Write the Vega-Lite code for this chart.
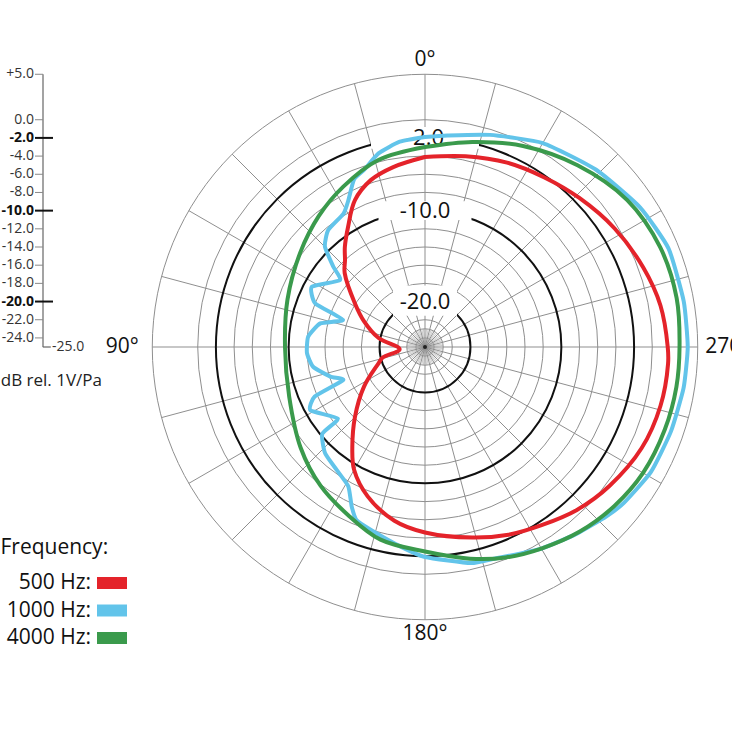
{
  "$schema": "https://vega.github.io/schema/vega-lite/v6.json",
  "width": 600,
  "height": 600,
  "autosize": {"type": "none"},
  "padding": {"left": 125, "top": 47, "right": 7, "bottom": 85},
  "background": "white",
  "config": {"view": {"stroke": null}, "text": {"font": "Open Sans"}, "legend": {"disable": true}},
  "datasets": {
    "curves": [
      {"freq": "1000 Hz", "a": 0, "dB": -1.9}, {"freq": "1000 Hz", "a": 7, "dB": -2.25}, {"freq": "1000 Hz", "a": 13.5, "dB": -3.1}, {"freq": "1000 Hz", "a": 19, "dB": -4.4}, {"freq": "1000 Hz", "a": 23, "dB": -5.0}, {"freq": "1000 Hz", "a": 27.6, "dB": -6.8}, {"freq": "1000 Hz", "a": 31.4, "dB": -7.8}, {"freq": "1000 Hz", "a": 39.6, "dB": -8.3}, {"freq": "1000 Hz", "a": 44.9, "dB": -9.4}, {"freq": "1000 Hz", "a": 48.8, "dB": -11.6}, {"freq": "1000 Hz", "a": 51.8, "dB": -13.1}, {"freq": "1000 Hz", "a": 62, "dB": -10.9}, {"freq": "1000 Hz", "a": 68.3, "dB": -12.0}, {"freq": "1000 Hz", "a": 71.7, "dB": -15.5}, {"freq": "1000 Hz", "a": 77.3, "dB": -13.2}, {"freq": "1000 Hz", "a": 85, "dB": -12.1}, {"freq": "1000 Hz", "a": 93, "dB": -12.0}, {"freq": "1000 Hz", "a": 100, "dB": -12.5}, {"freq": "1000 Hz", "a": 107.4, "dB": -14.1}, {"freq": "1000 Hz", "a": 112, "dB": -15.3}, {"freq": "1000 Hz", "a": 114.2, "dB": -11.7}, {"freq": "1000 Hz", "a": 118.9, "dB": -10.6}, {"freq": "1000 Hz", "a": 129.4, "dB": -12.6}, {"freq": "1000 Hz", "a": 130.2, "dB": -10.2}, {"freq": "1000 Hz", "a": 136.8, "dB": -8.95}, {"freq": "1000 Hz", "a": 144.3, "dB": -8.35}, {"freq": "1000 Hz", "a": 151.2, "dB": -7.5}, {"freq": "1000 Hz", "a": 155.3, "dB": -5.7}, {"freq": "1000 Hz", "a": 158.5, "dB": -4.5}, {"freq": "1000 Hz", "a": 163.7, "dB": -4.0}, {"freq": "1000 Hz", "a": 172.9, "dB": -2.9}, {"freq": "1000 Hz", "a": 180, "dB": -1.9}, {"freq": "1000 Hz", "a": 192, "dB": -0.7}, {"freq": "1000 Hz", "a": 198, "dB": -0.5}, {"freq": "1000 Hz", "a": 210, "dB": 0.6}, {"freq": "1000 Hz", "a": 219, "dB": 1.45}, {"freq": "1000 Hz", "a": 227, "dB": 2.3}, {"freq": "1000 Hz", "a": 232, "dB": 2.8}, {"freq": "1000 Hz", "a": 241, "dB": 3.4}, {"freq": "1000 Hz", "a": 251, "dB": 3.6}, {"freq": "1000 Hz", "a": 261, "dB": 3.8}, {"freq": "1000 Hz", "a": 270, "dB": 3.9}, {"freq": "1000 Hz", "a": 280, "dB": 3.9}, {"freq": "1000 Hz", "a": 292, "dB": 3.9}, {"freq": "1000 Hz", "a": 303, "dB": 3.2}, {"freq": "1000 Hz", "a": 316, "dB": 2.1}, {"freq": "1000 Hz", "a": 330, "dB": 0.9}, {"freq": "1000 Hz", "a": 343, "dB": -0.6}, {"freq": "1000 Hz", "a": 354, "dB": -1.6}, {"freq": "1000 Hz", "a": 360, "dB": -1.9},
      {"freq": "4000 Hz", "a": 0, "dB": -3.0}, {"freq": "4000 Hz", "a": 14, "dB": -3.8}, {"freq": "4000 Hz", "a": 27, "dB": -5.2}, {"freq": "4000 Hz", "a": 39, "dB": -6.45}, {"freq": "4000 Hz", "a": 53, "dB": -7.8}, {"freq": "4000 Hz", "a": 71, "dB": -9.0}, {"freq": "4000 Hz", "a": 90, "dB": -9.6}, {"freq": "4000 Hz", "a": 110, "dB": -9.1}, {"freq": "4000 Hz", "a": 129, "dB": -7.4}, {"freq": "4000 Hz", "a": 143, "dB": -5.9}, {"freq": "4000 Hz", "a": 156, "dB": -4.6}, {"freq": "4000 Hz", "a": 167, "dB": -3.25}, {"freq": "4000 Hz", "a": 180, "dB": -2.5}, {"freq": "4000 Hz", "a": 192, "dB": -1.2}, {"freq": "4000 Hz", "a": 201, "dB": -0.2}, {"freq": "4000 Hz", "a": 210, "dB": 0.6}, {"freq": "4000 Hz", "a": 220, "dB": 1.5}, {"freq": "4000 Hz", "a": 230, "dB": 2.2}, {"freq": "4000 Hz", "a": 240, "dB": 2.7}, {"freq": "4000 Hz", "a": 251, "dB": 2.9}, {"freq": "4000 Hz", "a": 261, "dB": 3.0}, {"freq": "4000 Hz", "a": 270, "dB": 3.0}, {"freq": "4000 Hz", "a": 281, "dB": 3.2}, {"freq": "4000 Hz", "a": 293, "dB": 3.1}, {"freq": "4000 Hz", "a": 306, "dB": 2.5}, {"freq": "4000 Hz", "a": 320, "dB": 1.1}, {"freq": "4000 Hz", "a": 334, "dB": -0.4}, {"freq": "4000 Hz", "a": 347, "dB": -1.85}, {"freq": "4000 Hz", "a": 360, "dB": -3.0},
      {"freq": "500 Hz", "a": 0, "dB": -4.1}, {"freq": "500 Hz", "a": 10, "dB": -4.9}, {"freq": "500 Hz", "a": 18, "dB": -5.7}, {"freq": "500 Hz", "a": 25.5, "dB": -7.1}, {"freq": "500 Hz", "a": 32.6, "dB": -9.3}, {"freq": "500 Hz", "a": 38.7, "dB": -10.9}, {"freq": "500 Hz", "a": 42.6, "dB": -12.0}, {"freq": "500 Hz", "a": 47.4, "dB": -13.0}, {"freq": "500 Hz", "a": 58, "dB": -15.9}, {"freq": "500 Hz", "a": 67, "dB": -17.7}, {"freq": "500 Hz", "a": 79, "dB": -19.8}, {"freq": "500 Hz", "a": 95, "dB": -22.2}, {"freq": "500 Hz", "a": 104, "dB": -20.2}, {"freq": "500 Hz", "a": 110, "dB": -19.5}, {"freq": "500 Hz", "a": 123, "dB": -17.0}, {"freq": "500 Hz", "a": 135, "dB": -14.1}, {"freq": "500 Hz", "a": 144, "dB": -11.4}, {"freq": "500 Hz", "a": 150, "dB": -9.4}, {"freq": "500 Hz", "a": 159, "dB": -7.4}, {"freq": "500 Hz", "a": 170, "dB": -5.6}, {"freq": "500 Hz", "a": 180, "dB": -4.6}, {"freq": "500 Hz", "a": 194, "dB": -3.4}, {"freq": "500 Hz", "a": 204, "dB": -2.4}, {"freq": "500 Hz", "a": 213, "dB": -1.6}, {"freq": "500 Hz", "a": 223, "dB": -0.5}, {"freq": "500 Hz", "a": 233, "dB": 0.4}, {"freq": "500 Hz", "a": 245, "dB": 1.3}, {"freq": "500 Hz", "a": 256, "dB": 1.7}, {"freq": "500 Hz", "a": 266, "dB": 1.8}, {"freq": "500 Hz", "a": 270, "dB": 1.7}, {"freq": "500 Hz", "a": 280, "dB": 1.3}, {"freq": "500 Hz", "a": 290, "dB": 0.55}, {"freq": "500 Hz", "a": 302, "dB": -0.4}, {"freq": "500 Hz", "a": 314, "dB": -1.4}, {"freq": "500 Hz", "a": 325, "dB": -2.2}, {"freq": "500 Hz", "a": 336, "dB": -2.8}, {"freq": "500 Hz", "a": 348, "dB": -3.55}, {"freq": "500 Hz", "a": 360, "dB": -4.1}
    ],
    "levels": [{"dB": 5}, {"dB": 0}, {"dB": -4}, {"dB": -6}, {"dB": -8}, {"dB": -12}, {"dB": -14}, {"dB": -16}, {"dB": -18}, {"dB": -22}, {"dB": -23}, {"dB": -24}],
    "major": [{"dB": -2}, {"dB": -10}, {"dB": -20}],
    "ticks": [{"dB": 5}, {"dB": 0}, {"dB": -2}, {"dB": -4}, {"dB": -6}, {"dB": -8}, {"dB": -10}, {"dB": -12}, {"dB": -14}, {"dB": -16}, {"dB": -18}, {"dB": -20}, {"dB": -22}, {"dB": -24}],
    "ends": [{"dB": 5}, {"dB": -25}],
    "spokes": [{"a": 0}, {"a": 15}, {"a": 30}, {"a": 45}, {"a": 60}, {"a": 75}, {"a": 90}, {"a": 105}, {"a": 120}, {"a": 135}, {"a": 150}, {"a": 165}, {"a": 180}, {"a": 195}, {"a": 210}, {"a": 225}, {"a": 240}, {"a": 255}, {"a": 270}, {"a": 285}, {"a": 300}, {"a": 315}, {"a": 330}, {"a": 345}],
    "fine": [{"a": 5}, {"a": 10}, {"a": 20}, {"a": 25}, {"a": 35}, {"a": 40}, {"a": 50}, {"a": 55}, {"a": 65}, {"a": 70}, {"a": 80}, {"a": 85}, {"a": 95}, {"a": 100}, {"a": 110}, {"a": 115}, {"a": 125}, {"a": 130}, {"a": 140}, {"a": 145}, {"a": 155}, {"a": 160}, {"a": 170}, {"a": 175}, {"a": 185}, {"a": 190}, {"a": 200}, {"a": 205}, {"a": 215}, {"a": 220}, {"a": 230}, {"a": 235}, {"a": 245}, {"a": 250}, {"a": 260}, {"a": 265}, {"a": 275}, {"a": 280}, {"a": 290}, {"a": 295}, {"a": 305}, {"a": 310}, {"a": 320}, {"a": 325}, {"a": 335}, {"a": 340}, {"a": 350}, {"a": 355}],
    "angles": [{"a": 0, "label": "0°"}, {"a": 90, "label": "90°"}, {"a": 180, "label": "180°"}, {"a": 270, "label": "270°"}],
    "freqs": [{"freq": "500 Hz"}, {"freq": "1000 Hz"}, {"freq": "4000 Hz"}]
  },
  "layer": [
    {
      "data": {"name": "levels"},
      "transform": [{"calculate": "datum.dB + 25", "as": "rho"}],
      "mark": {"type": "point", "shape": "circle", "filled": false, "color": "#8f8f8f", "opacity": 1, "strokeWidth": 1},
      "encoding": {
        "x": {"datum": 0, "type": "quantitative", "scale": {"domain": [-33, 33], "nice": false, "zero": false}, "axis": null},
        "y": {"datum": 0, "type": "quantitative", "scale": {"domain": [-33, 33], "nice": false, "zero": false}, "axis": null},
        "size": {"field": "rho", "type": "quantitative", "scale": {"type": "pow", "exponent": 2, "domain": [0, 30], "range": [0, 297520], "zero": false, "nice": false}}
      }
    },
    {
      "data": {"name": "fine"},
      "transform": [
        {"calculate": "0", "as": "cx"},
        {"calculate": "-2*sin(datum.a*PI/180)", "as": "ex"},
        {"calculate": "2*cos(datum.a*PI/180)", "as": "ey"}
      ],
      "mark": {"type": "rule", "stroke": "#a8a8a8", "strokeWidth": 0.6},
      "encoding": {
        "x": {"field": "cx", "type": "quantitative", "scale": {"domain": [-33, 33], "nice": false, "zero": false}, "axis": null},
        "y": {"field": "cx", "type": "quantitative", "scale": {"domain": [-33, 33], "nice": false, "zero": false}, "axis": null},
        "x2": {"field": "ex"},
        "y2": {"field": "ey"}
      }
    },
    {
      "data": {"name": "spokes"},
      "transform": [
        {"calculate": "0", "as": "cx"},
        {"calculate": "-30*sin(datum.a*PI/180)", "as": "ex"},
        {"calculate": "30*cos(datum.a*PI/180)", "as": "ey"}
      ],
      "mark": {"type": "rule", "stroke": "#8f8f8f", "strokeWidth": 1},
      "encoding": {
        "x": {"field": "cx", "type": "quantitative", "scale": {"domain": [-33, 33], "nice": false, "zero": false}, "axis": null},
        "y": {"field": "cx", "type": "quantitative", "scale": {"domain": [-33, 33], "nice": false, "zero": false}, "axis": null},
        "x2": {"field": "ex"},
        "y2": {"field": "ey"}
      }
    },
    {
      "data": {"name": "major"},
      "transform": [{"calculate": "datum.dB + 25", "as": "rho"}],
      "mark": {"type": "point", "shape": "circle", "filled": false, "color": "#111111", "opacity": 1, "strokeWidth": 2},
      "encoding": {
        "x": {"datum": 0, "type": "quantitative", "scale": {"domain": [-33, 33], "nice": false, "zero": false}, "axis": null},
        "y": {"datum": 0, "type": "quantitative", "scale": {"domain": [-33, 33], "nice": false, "zero": false}, "axis": null},
        "size": {"field": "rho", "type": "quantitative", "scale": {"type": "pow", "exponent": 2, "domain": [0, 30], "range": [0, 297520], "zero": false, "nice": false}}
      }
    },
    {
      "data": {"name": "major"},
      "transform": [{"filter": "datum.dB == -2"}, {"calculate": "datum.dB + 25", "as": "rho"}],
      "mark": {"type": "point", "shape": "M-1,-0.2H1V0.2H-1Z", "size": 11664, "filled": true, "color": "white", "opacity": 1, "strokeWidth": 0},
      "encoding": {
        "x": {"datum": 0, "type": "quantitative", "scale": {"domain": [-33, 33], "nice": false, "zero": false}, "axis": null},
        "y": {"field": "rho", "type": "quantitative", "scale": {"domain": [-33, 33], "nice": false, "zero": false}, "axis": null}
      }
    },
    {
      "data": {"name": "major"},
      "transform": [{"filter": "datum.dB == -10"}, {"calculate": "datum.dB + 25", "as": "rho"}],
      "mark": {"type": "point", "shape": "M-1,-0.2H1V0.2H-1Z", "size": 8649, "filled": true, "color": "white", "opacity": 1, "strokeWidth": 0},
      "encoding": {
        "x": {"datum": 0, "type": "quantitative", "scale": {"domain": [-33, 33], "nice": false, "zero": false}, "axis": null},
        "y": {"field": "rho", "type": "quantitative", "scale": {"domain": [-33, 33], "nice": false, "zero": false}, "axis": null}
      }
    },
    {
      "data": {"name": "major"},
      "transform": [{"filter": "datum.dB == -20"}, {"calculate": "datum.dB + 25", "as": "rho"}],
      "mark": {"type": "point", "shape": "M-1,-0.5H1V0.44H-1Z", "size": 4096, "filled": true, "color": "white", "opacity": 1, "strokeWidth": 0},
      "encoding": {
        "x": {"datum": 0, "type": "quantitative", "scale": {"domain": [-33, 33], "nice": false, "zero": false}, "axis": null},
        "y": {"field": "rho", "type": "quantitative", "scale": {"domain": [-33, 33], "nice": false, "zero": false}, "axis": null}
      }
    },
    {
      "data": {"values": [{}]},
      "mark": {"type": "point", "filled": true, "color": "#222222", "size": 16, "opacity": 1},
      "encoding": {
        "x": {"datum": 0, "type": "quantitative", "scale": {"domain": [-33, 33], "nice": false, "zero": false}, "axis": null},
        "y": {"datum": 0, "type": "quantitative", "scale": {"domain": [-33, 33], "nice": false, "zero": false}, "axis": null}
      }
    },
    {
      "data": {"name": "major"},
      "transform": [
        {"calculate": "datum.dB + 25", "as": "rho"},
        {"calculate": "replace(format(datum.dB, '.1f'), '\u2212', '-')", "as": "label"}
      ],
      "mark": {"type": "text", "fontSize": 22, "color": "#111111", "align": "center", "baseline": "middle"},
      "encoding": {
        "x": {"datum": 0, "type": "quantitative", "scale": {"domain": [-33, 33], "nice": false, "zero": false}, "axis": null},
        "y": {"field": "rho", "type": "quantitative", "scale": {"domain": [-33, 33], "nice": false, "zero": false}, "axis": null},
        "text": {"field": "label"}
      }
    },
    {
      "data": {"name": "curves"},
      "transform": [
        {"filter": "datum.freq == '1000 Hz'"},
        {"calculate": "-(datum.dB+25)*sin(datum.a*PI/180)", "as": "x"},
        {"calculate": "(datum.dB+25)*cos(datum.a*PI/180)", "as": "y"}
      ],
      "mark": {"type": "line", "strokeWidth": 4, "strokeJoin": "round", "strokeCap": "round", "interpolate": "cardinal", "tension": 0.5},
      "encoding": {
        "x": {"field": "x", "type": "quantitative", "scale": {"domain": [-33, 33], "nice": false, "zero": false}, "axis": null},
        "y": {"field": "y", "type": "quantitative", "scale": {"domain": [-33, 33], "nice": false, "zero": false}, "axis": null},
        "order": {"field": "a", "type": "quantitative"},
        "color": {"field": "freq", "type": "nominal", "scale": {"domain": ["500 Hz", "1000 Hz", "4000 Hz"], "range": ["#e4232a", "#62c4ea", "#3a9a4c"]}, "legend": null}
      }
    },
    {
      "data": {"name": "curves"},
      "transform": [
        {"filter": "datum.freq == '4000 Hz'"},
        {"calculate": "-(datum.dB+25)*sin(datum.a*PI/180)", "as": "x"},
        {"calculate": "(datum.dB+25)*cos(datum.a*PI/180)", "as": "y"}
      ],
      "mark": {"type": "line", "strokeWidth": 4, "strokeJoin": "round", "strokeCap": "round", "interpolate": "catmull-rom"},
      "encoding": {
        "x": {"field": "x", "type": "quantitative", "scale": {"domain": [-33, 33], "nice": false, "zero": false}, "axis": null},
        "y": {"field": "y", "type": "quantitative", "scale": {"domain": [-33, 33], "nice": false, "zero": false}, "axis": null},
        "order": {"field": "a", "type": "quantitative"},
        "color": {"field": "freq", "type": "nominal", "scale": {"domain": ["500 Hz", "1000 Hz", "4000 Hz"], "range": ["#e4232a", "#62c4ea", "#3a9a4c"]}, "legend": null}
      }
    },
    {
      "data": {"name": "curves"},
      "transform": [
        {"filter": "datum.freq == '500 Hz'"},
        {"calculate": "-(datum.dB+25)*sin(datum.a*PI/180)", "as": "x"},
        {"calculate": "(datum.dB+25)*cos(datum.a*PI/180)", "as": "y"}
      ],
      "mark": {"type": "line", "strokeWidth": 4, "strokeJoin": "round", "strokeCap": "round", "interpolate": "catmull-rom"},
      "encoding": {
        "x": {"field": "x", "type": "quantitative", "scale": {"domain": [-33, 33], "nice": false, "zero": false}, "axis": null},
        "y": {"field": "y", "type": "quantitative", "scale": {"domain": [-33, 33], "nice": false, "zero": false}, "axis": null},
        "order": {"field": "a", "type": "quantitative"},
        "color": {"field": "freq", "type": "nominal", "scale": {"domain": ["500 Hz", "1000 Hz", "4000 Hz"], "range": ["#e4232a", "#62c4ea", "#3a9a4c"]}, "legend": null}
      }
    },
    {
      "data": {"name": "angles"},
      "transform": [
        {"calculate": "datum.a % 180 == 0 ? 31.6 : 33.3", "as": "R"},
        {"calculate": "-datum.R*sin(datum.a*PI/180)", "as": "x"},
        {"calculate": "datum.R*cos(datum.a*PI/180)", "as": "y"}
      ],
      "mark": {"type": "text", "fontSize": 21, "color": "#111111", "align": "center", "baseline": "middle"},
      "encoding": {
        "x": {"field": "x", "type": "quantitative", "scale": {"domain": [-33, 33], "nice": false, "zero": false}, "axis": null},
        "y": {"field": "y", "type": "quantitative", "scale": {"domain": [-33, 33], "nice": false, "zero": false}, "axis": null},
        "text": {"field": "label"}
      }
    },
    {
      "data": {"name": "ends"},
      "transform": [{"calculate": "datum.dB + 25", "as": "rho"}],
      "mark": {"type": "line", "stroke": "#666666", "strokeWidth": 1.2},
      "encoding": {
        "x": {"datum": -42.02, "type": "quantitative", "scale": {"domain": [-33, 33], "nice": false, "zero": false}, "axis": null},
        "y": {"field": "rho", "type": "quantitative", "scale": {"domain": [-33, 33], "nice": false, "zero": false}, "axis": null}
      }
    },
    {
      "data": {"values": [{"dB": -25}]},
      "transform": [{"calculate": "datum.dB + 25", "as": "rho"}],
      "mark": {"type": "tick", "orient": "horizontal", "size": 8, "thickness": 1.2, "color": "#666666", "opacity": 1},
      "encoding": {
        "x": {"datum": -41.6, "type": "quantitative", "scale": {"domain": [-33, 33], "nice": false, "zero": false}, "axis": null},
        "y": {"field": "rho", "type": "quantitative", "scale": {"domain": [-33, 33], "nice": false, "zero": false}, "axis": null}
      }
    },
    {
      "data": {"name": "ticks"},
      "transform": [
        {"filter": "datum.dB != -2 && datum.dB != -10 && datum.dB != -20"},
        {"calculate": "datum.dB + 25", "as": "rho"}
      ],
      "mark": {"type": "tick", "orient": "horizontal", "size": 8, "thickness": 1, "color": "#888888", "opacity": 1},
      "encoding": {
        "x": {"datum": -42.46, "type": "quantitative", "scale": {"domain": [-33, 33], "nice": false, "zero": false}, "axis": null},
        "y": {"field": "rho", "type": "quantitative", "scale": {"domain": [-33, 33], "nice": false, "zero": false}, "axis": null}
      }
    },
    {
      "data": {"name": "ticks"},
      "transform": [
        {"filter": "datum.dB == -2 || datum.dB == -10 || datum.dB == -20"},
        {"calculate": "datum.dB + 25", "as": "rho"}
      ],
      "mark": {"type": "tick", "orient": "horizontal", "size": 18, "thickness": 2, "color": "#111111", "opacity": 1},
      "encoding": {
        "x": {"datum": -41.91, "type": "quantitative", "scale": {"domain": [-33, 33], "nice": false, "zero": false}, "axis": null},
        "y": {"field": "rho", "type": "quantitative", "scale": {"domain": [-33, 33], "nice": false, "zero": false}, "axis": null}
      }
    },
    {
      "data": {"name": "ticks"},
      "transform": [
        {"filter": "datum.dB != -2 && datum.dB != -10 && datum.dB != -20"},
        {"calculate": "datum.dB + 25", "as": "rho"},
        {"calculate": "(datum.dB > 0 ? '+' : '') + replace(format(datum.dB, '.1f'), '\u2212', '-')", "as": "label"}
      ],
      "mark": {"type": "text", "fontSize": 14, "color": "#333333", "align": "right", "baseline": "middle"},
      "encoding": {
        "x": {"datum": -43.01, "type": "quantitative", "scale": {"domain": [-33, 33], "nice": false, "zero": false}, "axis": null},
        "y": {"field": "rho", "type": "quantitative", "scale": {"domain": [-33, 33], "nice": false, "zero": false}, "axis": null},
        "text": {"field": "label"}
      }
    },
    {
      "data": {"name": "ticks"},
      "transform": [
        {"filter": "datum.dB == -2 || datum.dB == -10 || datum.dB == -20"},
        {"calculate": "datum.dB + 25", "as": "rho"},
        {"calculate": "replace(format(datum.dB, '.1f'), '\u2212', '-')", "as": "label"}
      ],
      "mark": {"type": "text", "fontSize": 14, "fontWeight": "bold", "color": "#111111", "align": "right", "baseline": "middle"},
      "encoding": {
        "x": {"datum": -43.01, "type": "quantitative", "scale": {"domain": [-33, 33], "nice": false, "zero": false}, "axis": null},
        "y": {"field": "rho", "type": "quantitative", "scale": {"domain": [-33, 33], "nice": false, "zero": false}, "axis": null},
        "text": {"field": "label"}
      }
    },
    {
      "data": {"values": [{"dB": -25}]},
      "transform": [{"calculate": "datum.dB + 25", "as": "rho"}],
      "mark": {"type": "text", "fontSize": 14, "color": "#333333", "align": "left", "baseline": "middle", "text": "-25.0"},
      "encoding": {
        "x": {"datum": -41.03, "type": "quantitative", "scale": {"domain": [-33, 33], "nice": false, "zero": false}, "axis": null},
        "y": {"field": "rho", "type": "quantitative", "scale": {"domain": [-33, 33], "nice": false, "zero": false}, "axis": null}
      }
    },
    {
      "data": {"values": [{}]},
      "mark": {"type": "text", "fontSize": 17, "color": "#222222", "align": "right", "baseline": "middle", "text": "dB rel. 1V/Pa"},
      "encoding": {
        "x": {"datum": -35.53, "type": "quantitative", "scale": {"domain": [-33, 33], "nice": false, "zero": false}, "axis": null},
        "y": {"datum": -3.74, "type": "quantitative", "scale": {"domain": [-33, 33], "nice": false, "zero": false}, "axis": null}
      }
    },
    {
      "data": {"values": [{}]},
      "mark": {"type": "text", "fontSize": 21, "color": "#111111", "align": "left", "baseline": "middle", "text": "Frequency:"},
      "encoding": {
        "x": {"datum": -46.7, "type": "quantitative", "scale": {"domain": [-33, 33], "nice": false, "zero": false}, "axis": null},
        "y": {"datum": -22.11, "type": "quantitative", "scale": {"domain": [-33, 33], "nice": false, "zero": false}, "axis": null}
      }
    },
    {
      "data": {"name": "freqs"},
      "transform": [{"filter": "datum.freq == '500 Hz'"}, {"calculate": "datum.freq + ':'", "as": "label"}],
      "mark": {"type": "text", "fontSize": 21, "color": "#111111", "align": "right", "baseline": "middle"},
      "encoding": {
        "x": {"datum": -36.74, "type": "quantitative", "scale": {"domain": [-33, 33], "nice": false, "zero": false}, "axis": null},
        "y": {"datum": -25.96, "type": "quantitative", "scale": {"domain": [-33, 33], "nice": false, "zero": false}, "axis": null},
        "text": {"field": "label"}
      }
    },
    {
      "data": {"name": "freqs"},
      "transform": [{"filter": "datum.freq == '1000 Hz'"}, {"calculate": "datum.freq + ':'", "as": "label"}],
      "mark": {"type": "text", "fontSize": 21, "color": "#111111", "align": "right", "baseline": "middle"},
      "encoding": {
        "x": {"datum": -36.74, "type": "quantitative", "scale": {"domain": [-33, 33], "nice": false, "zero": false}, "axis": null},
        "y": {"datum": -28.985, "type": "quantitative", "scale": {"domain": [-33, 33], "nice": false, "zero": false}, "axis": null},
        "text": {"field": "label"}
      }
    },
    {
      "data": {"name": "freqs"},
      "transform": [{"filter": "datum.freq == '4000 Hz'"}, {"calculate": "datum.freq + ':'", "as": "label"}],
      "mark": {"type": "text", "fontSize": 21, "color": "#111111", "align": "right", "baseline": "middle"},
      "encoding": {
        "x": {"datum": -36.74, "type": "quantitative", "scale": {"domain": [-33, 33], "nice": false, "zero": false}, "axis": null},
        "y": {"datum": -32.01, "type": "quantitative", "scale": {"domain": [-33, 33], "nice": false, "zero": false}, "axis": null},
        "text": {"field": "label"}
      }
    },
    {
      "data": {"name": "freqs"},
      "transform": [{"filter": "datum.freq == '500 Hz'"}],
      "mark": {"type": "point", "shape": "M-1.25,-0.5H1.25V0.5H-1.25Z", "size": 576, "filled": true, "opacity": 1, "strokeWidth": 0},
      "encoding": {
        "x": {"datum": -34.43, "type": "quantitative", "scale": {"domain": [-33, 33], "nice": false, "zero": false}, "axis": null},
        "y": {"datum": -25.96, "type": "quantitative", "scale": {"domain": [-33, 33], "nice": false, "zero": false}, "axis": null},
        "color": {"field": "freq", "type": "nominal", "scale": {"domain": ["500 Hz", "1000 Hz", "4000 Hz"], "range": ["#e4232a", "#62c4ea", "#3a9a4c"]}, "legend": null}
      }
    },
    {
      "data": {"name": "freqs"},
      "transform": [{"filter": "datum.freq == '1000 Hz'"}],
      "mark": {"type": "point", "shape": "M-1.25,-0.5H1.25V0.5H-1.25Z", "size": 576, "filled": true, "opacity": 1, "strokeWidth": 0},
      "encoding": {
        "x": {"datum": -34.43, "type": "quantitative", "scale": {"domain": [-33, 33], "nice": false, "zero": false}, "axis": null},
        "y": {"datum": -28.985, "type": "quantitative", "scale": {"domain": [-33, 33], "nice": false, "zero": false}, "axis": null},
        "color": {"field": "freq", "type": "nominal", "scale": {"domain": ["500 Hz", "1000 Hz", "4000 Hz"], "range": ["#e4232a", "#62c4ea", "#3a9a4c"]}, "legend": null}
      }
    },
    {
      "data": {"name": "freqs"},
      "transform": [{"filter": "datum.freq == '4000 Hz'"}],
      "mark": {"type": "point", "shape": "M-1.25,-0.5H1.25V0.5H-1.25Z", "size": 576, "filled": true, "opacity": 1, "strokeWidth": 0},
      "encoding": {
        "x": {"datum": -34.43, "type": "quantitative", "scale": {"domain": [-33, 33], "nice": false, "zero": false}, "axis": null},
        "y": {"datum": -32.01, "type": "quantitative", "scale": {"domain": [-33, 33], "nice": false, "zero": false}, "axis": null},
        "color": {"field": "freq", "type": "nominal", "scale": {"domain": ["500 Hz", "1000 Hz", "4000 Hz"], "range": ["#e4232a", "#62c4ea", "#3a9a4c"]}, "legend": null}
      }
    }
  ]
}
